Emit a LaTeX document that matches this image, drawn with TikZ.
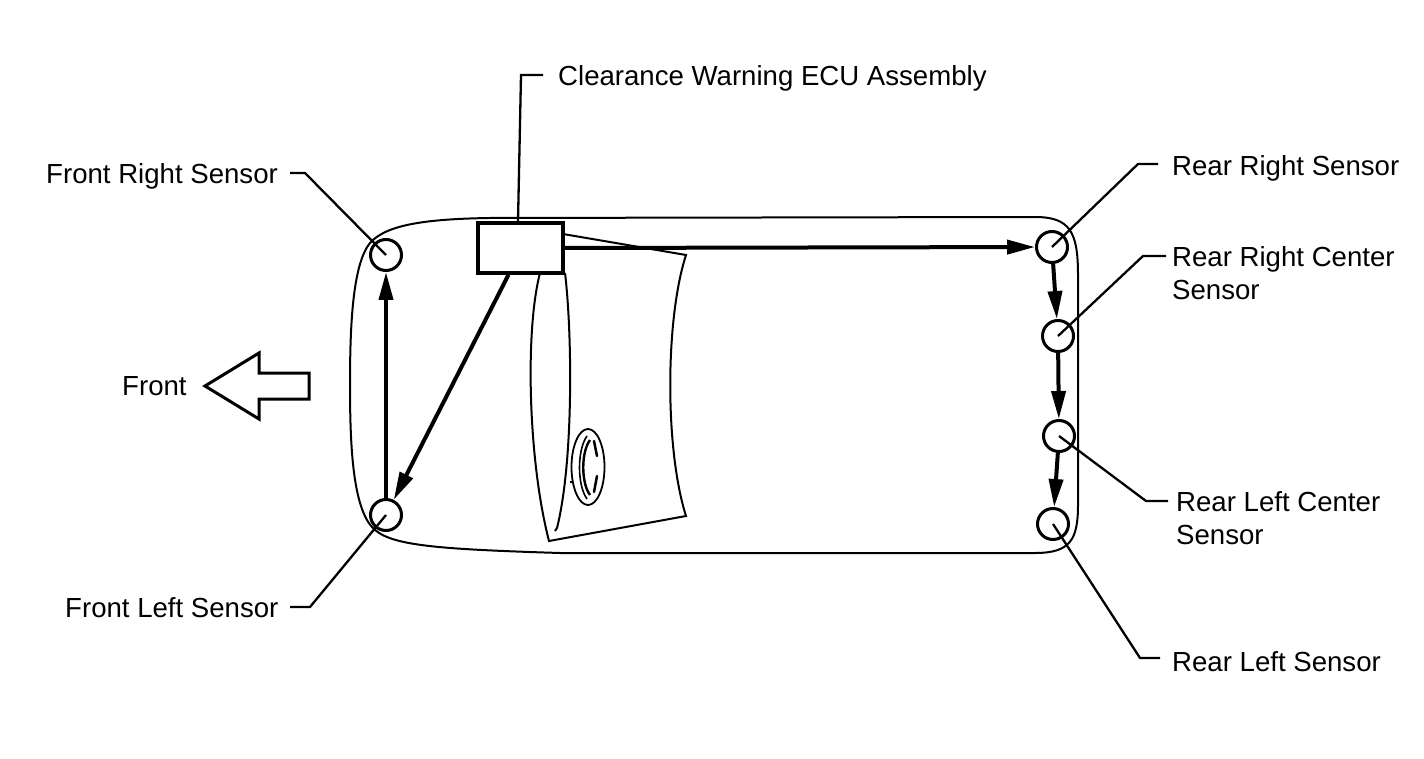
\documentclass[tikz,border=0pt]{standalone}
\usepackage{fontspec}
\setmainfont{Liberation Sans}
\usetikzlibrary{arrows.meta}
\begin{document}
\begin{tikzpicture}[x=1pt,y=-1pt,
  lbl/.style={font=\fontsize{27.6}{33}\selectfont, inner sep=0pt, align=left, anchor=north west},
  sensor/.style={circle, draw, line width=3pt, minimum size=31pt, inner sep=0pt},
  arr/.style={line width=4pt, -{Triangle[length=28pt,width=14pt]}},
  lead/.style={line width=2.3pt},
  outl/.style={line width=2pt}]
\useasboundingbox (0,0) rectangle (1424,759);
\fill[white] (0,0) rectangle (1424,759);

% car body
\draw[outl] (1035,217) -- (490,218) .. controls (420,219) and (385,226) .. (370,243)
  .. controls (352,265) and (350,330) .. (350,385)
  .. controls (350,440) and (352,505) .. (372,527)
  .. controls (388,545) and (430,549) .. (560,553) -- (1035,553)
  .. controls (1070,553) and (1078,540) .. (1078,505) -- (1078,275)
  .. controls (1078,232) and (1070,217) .. (1035,217) -- cycle;

% seat / dashboard shape
\draw[outl] (563,234) -- (686,255) .. controls (665,320) and (665,450) .. (686,516)
  -- (549,541) .. controls (528,460) and (525,330) .. (540,273);
\draw[outl] (565,273) .. controls (572,330) and (574,460) .. (557,528) -- (555,531);

% steering wheel
\draw[line width=1.8pt] (588,467) ellipse [x radius=16.5, y radius=38];
\draw[line width=1.6pt] (587,436) .. controls (577,450) and (577,485) .. (587,499);
\draw[line width=2.4pt] (590,440) .. controls (581,452) and (581,483) .. (590,495);
\draw[line width=2.5pt, line cap=round] (594,441) -- (597,456);
\draw[line width=2.5pt, line cap=round] (597,476) -- (594,492);
\draw[outl] (570,482) -- (573,482);

% ECU
\node[draw, line width=3.5pt, minimum width=85pt, minimum height=50pt, inner sep=0pt, fill=white] (ecu) at (520.5,248) {};

% sensors
\node[sensor] (fr) at (386,255) {};
\node[sensor] (fl) at (386,515) {};
\node[sensor] (rr) at (1052,247) {};
\node[sensor] (rrc) at (1058,336) {};
\node[sensor] (rlc) at (1059,436) {};
\node[sensor] (rl) at (1053,524) {};

% signal arrows
\draw[arr] (ecu.east) -- (rr);
\draw[arr] ([xshift=-12pt]ecu.south) -- (fl);
\draw[arr] (fl) -- (fr);
\draw[arr] (rr) -- (rrc);
\draw[arr] (rrc) -- (rlc);
\draw[arr] (rlc) -- (rl);

% leader lines
\coordinate (ecuA) at (521,75);
\coordinate (ecuB) at (543,75);
\draw[lead] ([xshift=-2.5pt]ecu.north) -- (ecuA) -- (ecuB);
\coordinate (frA) at (290,173);
\coordinate (frB) at (305,173);
\draw[lead] (frA) -- (frB) -- (fr.center);
\coordinate (flA) at (290,607);
\coordinate (flB) at (310,607);
\draw[lead] (flA) -- (flB) -- (fl.center);
\coordinate (rrA) at (1158,164);
\coordinate (rrB) at (1138,164);
\draw[lead] (rrA) -- (rrB) -- (rr.center);
\coordinate (rrcA) at (1166,256);
\coordinate (rrcB) at (1143,256);
\draw[lead] (rrcA) -- (rrcB) -- (rrc.center);
\coordinate (rlcA) at (1168,501);
\coordinate (rlcB) at (1146,501);
\draw[lead] (rlcA) -- (rlcB) -- (rlc.center);
\coordinate (rlA) at (1160,658);
\coordinate (rlB) at (1140,658);
\draw[lead] (rlA) -- (rlB) -- (rl.center);

% front arrow
\draw[line width=3pt, line join=miter] (205,386) -- (259,353) -- (259,373) -- (309,373)
  -- (309,399) -- (259,399) -- (259,419) -- cycle;

% labels
\node[lbl] (tecu) at (558,65) {Clearance Warning ECU Assembly};
\node[lbl] (tfr) at (46,163) {Front Right Sensor};
\node[lbl] (tfl) at (65,597) {Front Left Sensor};
\node[lbl] (tfront) at (122,376) {Front};
\node[lbl] (trr) at (1172,155) {Rear Right Sensor};
\node[lbl] (trrc) at (1172,246) {Rear Right Center\\Sensor};
\node[lbl] (trlc) at (1176,491) {Rear Left Center\\Sensor};
\node[lbl] (trl) at (1172,651) {Rear Left Sensor};
\end{tikzpicture}
\end{document}
